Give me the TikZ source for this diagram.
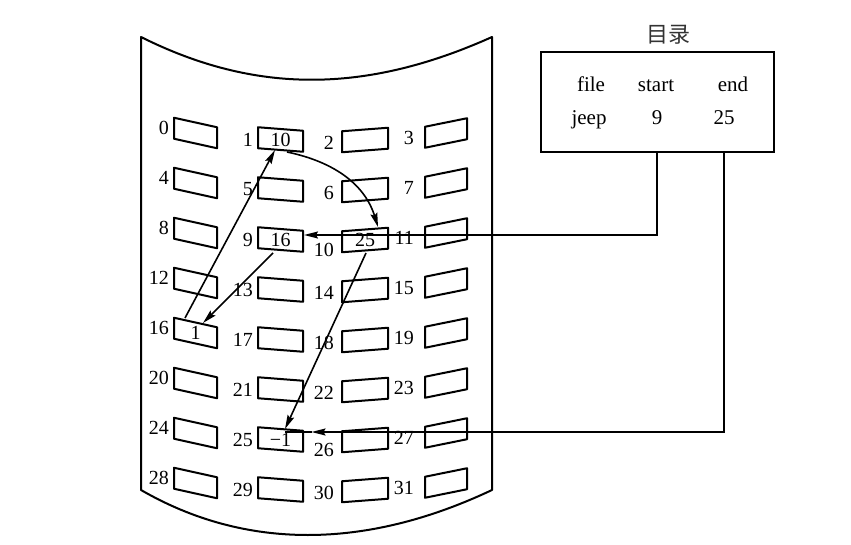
\documentclass[tikz,border=0pt]{standalone}
\usepackage{fontspec}
\setmainfont{Liberation Serif}
\newfontfamily\cjk{Noto Sans CJK SC}
\usepackage{tikz}
\usetikzlibrary{arrows.meta}

\tikzset{
	sector/.style={line width=2pt,line join=round},
	etiq/.style={inner sep=0pt,font=\fontsize{20}{22}\selectfont},
	valor/.style={inner sep=0pt,font=\fontsize{20}{22}\selectfont},
	flecha/.style={line width=1.6pt,-{Stealth[length=14pt,width=7pt,inset=2pt]}},
	linea/.style={line width=1.6pt},
	dirtexto/.style={inner sep=0pt,anchor=base,font=\fontsize{21}{24}\selectfont}
}

\begin{document}
\begin{tikzpicture}[x=1pt,y=-1pt]
		\useasboundingbox (0,0) rectangle (851,545);
		% el disco
		\draw[line width=2pt,line join=round] (141,37) .. controls (255,94) and (365,94) .. (492,37)
		-- (492,490) .. controls (365,550) and (245,550) .. (141,490) -- cycle;
		\foreach \Col/\Xc/\Yc/\Ancho/\Inc/\Lx/\Ly in
		{0/195.5/133/43/9.5/169/-5, 1/280.5/139.5/45/3.5/253/0, 2/365/140/46/-3.5/334/3, 3/446/133/42/-8.5/414/5}
		{
			\foreach \Fila in {0,...,7}
			{
				\pgfmathtruncatemacro{\Num}{4*\Fila+\Col}
				\pgfmathsetmacro{\Baja}{(\Num==10 || \Num==26) ? 7 : 0}
				\coordinate (s\Num) at (\Xc,\Yc+50*\Fila);
				\draw[sector] ([shift={(-\Ancho/2,-10.5-\Inc/2)}]s\Num) 
				-- ++(\Ancho,\Inc) -- ++(0,21) -- ++(-\Ancho,-\Inc) -- cycle;
				\node[etiq,anchor=east] (l\Num) at (\Lx,\Yc+50*\Fila+\Ly+\Baja) {\Num};
			}
		}
		\foreach \Num/\Texto in 
		{1/10, 9/16, 10/25, 16/1, 25/−1}
		{
			\node[valor] (v\Num) at (s\Num) {\Texto};
		}
		% directorio
		\node[draw,line width=2pt,minimum width=233,minimum height=100] (dir) at (657.5,102) {};
		\node[inner sep=0pt,font=\cjk\fontsize{22}{24}\selectfont,text=black!80] (titulo) at (668,35) {目录};
		\node[dirtexto] (dfile) at (591,92) {file};
		\node[dirtexto] (dstart) at (656,92) {start};
		\node[dirtexto] (dend) at (733,92) {end};
		\node[dirtexto] (djeep) at (589,125) {jeep};
		\node[dirtexto] (dinicio) at (657,125) {9};
		\node[dirtexto] (dfin) at (724,125) {25};
		% la cadena
		\draw[flecha] (dinicio |- dir.south) |- ([shift={(23.5,-4.5)}]s9);
		\draw[flecha] ([shift={(-7.5,13.5)}]s9) -- ([shift={(7.5,-10)}]s16);
		\draw[flecha] ([shift={(-10.5,-15)}]s16) -- ([shift={(-5.5,10.5)}]s1);
		\draw[flecha] ([shift={(6.5,12.5)}]s1) .. controls +(48,10) and +(-13,-42) .. ([shift={(13,-13)}]s10);
		\draw[flecha] ([shift={(1,13)}]s10) -- ([shift={(4.5,-10.5)}]s25);
		\coordinate (fin) at ([shift={(31,-7.5)}]s25);
		\draw[flecha] (dfin |- dir.south) |- (fin);
		\draw[linea] (fin) -- ([shift={(4,-7.5)}]s25);
\end{tikzpicture}
\end{document}
